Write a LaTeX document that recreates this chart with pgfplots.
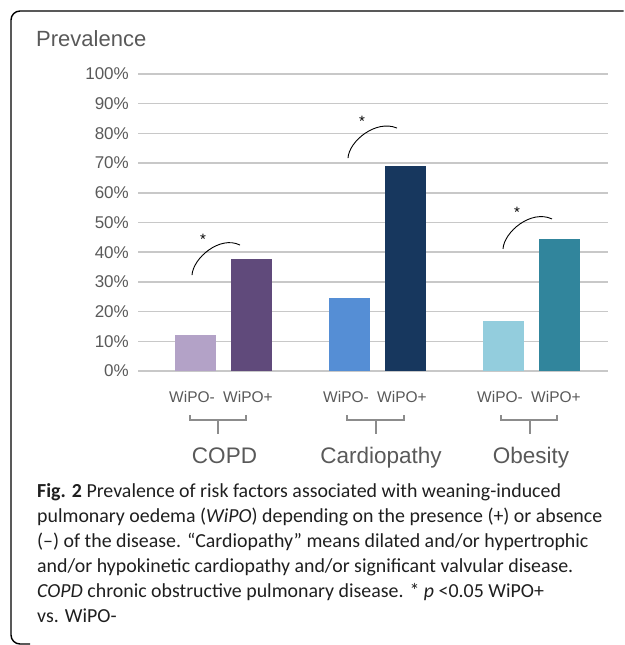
\documentclass[border=0pt]{standalone}
\usepackage{fontspec}
\setmainfont{Liberation Sans}
\newfontfamily\capfont{Carlito}
\usepackage{pgfplots}
\pgfplotsset{compat=1.18}
\definecolor{txt}{HTML}{595959}
\definecolor{gridc}{HTML}{C8C8C8}
\definecolor{brk}{HTML}{8C8C8C}
\definecolor{ca}{HTML}{B3A2C7}
\definecolor{cb}{HTML}{604A7B}
\definecolor{cc}{HTML}{558ED5}
\definecolor{cd}{HTML}{17375E}
\definecolor{ce}{HTML}{93CDDD}
\definecolor{cf}{HTML}{31859C}
\newlength\capw
\begin{document}%
\settowidth\capw{\capfont\fontsize{10bp}{12bp}\selectfont pulmonary oedema (\textit{WiPO}) depending on the presence (+) or absence}%
\pgfmathsetmacro\capsize{10*567.12/\capw}%
\newcommand\capf{\capfont\fontsize{\capsize bp}{25bp}\selectfont}%
\begin{tikzpicture}
\begin{scope}[x=1bp,y=-1bp]
\path (0,0) rectangle (625,645);
\draw[line width=1.4bp, rounded corners=9bp] (623.5,11) -- (11,11) -- (11,644) -- (30,644);
\node[anchor=base west, inner sep=0pt, text=txt, font=\fontsize{22bp}{26bp}\selectfont] at (36,47) {Prevalence};
\end{scope}
\begin{axis}[at={(138bp,-371bp)}, anchor=south west,
  scale only axis, width=470bp, height=297bp,
  xmin=138, xmax=608, ymin=0, ymax=100,
  axis line style={draw=none}, major tick length=0pt,
  ytick={0,10,...,100},
  yticklabels={0\%,10\%,20\%,30\%,40\%,50\%,60\%,70\%,80\%,90\%,100\%},
  ymajorgrids, major grid style={draw=gridc, line width=1.5bp},
  xtick={192,248,346,402,500,556},
  xticklabels={WiPO-,WiPO+,WiPO-,WiPO+,WiPO-,WiPO+},
  xticklabel style={font=\fontsize{15.5bp}{18bp}\selectfont, text=txt, anchor=base, inner sep=0pt, yshift=-31bp},
  yticklabel style={font=\fontsize{17bp}{20bp}\selectfont, text=txt, anchor=east, inner sep=0pt, xshift=-9bp},
  clip=false]
\addplot[ybar, bar width=41, bar shift=0pt, fill=ca, draw=none] coordinates {(195.5,12.1)};
\addplot[ybar, bar width=41, bar shift=0pt, fill=cb, draw=none] coordinates {(251.5,37.7)};
\addplot[ybar, bar width=41, bar shift=0pt, fill=cc, draw=none] coordinates {(349.5,24.6)};
\addplot[ybar, bar width=41, bar shift=0pt, fill=cd, draw=none] coordinates {(405.5,69.0)};
\addplot[ybar, bar width=41, bar shift=0pt, fill=ce, draw=none] coordinates {(503.5,16.8)};
\addplot[ybar, bar width=41, bar shift=0pt, fill=cf, draw=none] coordinates {(559.5,44.4)};
% significance arcs
\draw[line width=0.9bp] (axis cs:192,32.3) .. controls (axis cs:193,38.0) and (axis cs:220,45.8) .. (axis cs:240,42.4);
\draw[line width=0.9bp] (axis cs:348,71.7) .. controls (axis cs:349,77.4) and (axis cs:376,84.8) .. (axis cs:397,81.8);
\draw[line width=0.9bp] (axis cs:503,41.1) .. controls (axis cs:504,46.8) and (axis cs:531,54.5) .. (axis cs:552,51.2);
\node[anchor=north, inner sep=0pt, font=\fontsize{15bp}{18bp}\selectfont] at (axis cs:203,46.0) {*};
\node[anchor=north, inner sep=0pt, font=\fontsize{15bp}{18bp}\selectfont] at (axis cs:362,85.7) {*};
\node[anchor=north, inner sep=0pt, font=\fontsize{15bp}{18bp}\selectfont] at (axis cs:517,55.1) {*};
\end{axis}
\begin{scope}[x=1bp,y=-1bp]
\foreach \a/\b/\s in {190/246/218, 347/404/376, 501/557/530}{
  \draw[brk, line width=1.2bp] (\a,415) -- (\a,420) -- (\b,420) -- (\b,415);
  \draw[brk, line width=1.2bp] (\s,420) -- (\s,434);
}
\node[anchor=base, inner sep=0pt, text=txt, font=\fontsize{22.5bp}{26bp}\selectfont] at (224.5,463) {COPD};
\node[anchor=base, inner sep=0pt, text=txt, font=\fontsize{22.5bp}{26bp}\selectfont] at (381,463) {Cardiopathy};
\node[anchor=base, inner sep=0pt, text=txt, font=\fontsize{22.5bp}{26bp}\selectfont] at (531,463) {Obesity};
\begin{scope}[every node/.style={anchor=base west, inner sep=0pt, text=black!88, font=\capf}]
\node at (37,497) {\textbf{Fig. 2} Prevalence of risk factors associated with weaning-induced};
\node at (37,522) {pulmonary oedema (\textit{WiPO}) depending on the presence (+) or absence};
\node at (37,547) {(–) of the disease. “Cardiopathy” means dilated and/or hypertrophic};
\node at (37,572) {and/or hypokinetic cardiopathy and/or significant valvular disease.};
\node at (37,597) {\textit{COPD} chronic obstructive pulmonary disease. * \textit{p} <0.05 WiPO+};
\node at (37,622) {vs. WiPO-};
\end{scope}
\end{scope}
\end{tikzpicture}%
\end{document}
